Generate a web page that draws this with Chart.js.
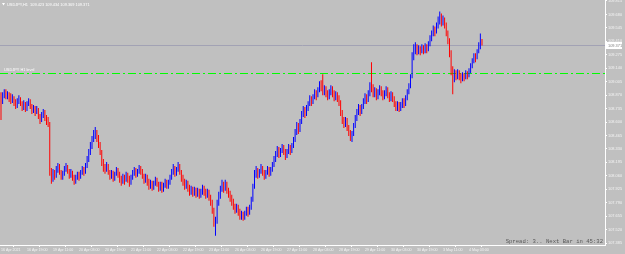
<!DOCTYPE html>
<html><head><meta charset="utf-8">
<script src="https://cdn.jsdelivr.net/npm/chart.js@4/dist/chart.umd.min.js"></script>
<style>html,body{margin:0;padding:0;background:#C0C0C0;overflow:hidden}#wrap{width:625px;height:254px}</style>
</head><body><div id="wrap"><canvas id="c" width="625" height="254"></canvas></div>
<script>
const headerText = 'USDJPY,H1  109.423 109.434 109.369 109.371';
const footerText = 'Spread: 3.. Next Bar in 45:32';
const levelText = 'USDJPY H1 level';
const bidPrice = 109.371;
const levelPrice = 109.092;
const barsPerLabel = 16;
const tickLabels = ['16 Apr 2021','16 Apr 19:00','19 Apr 11:00','20 Apr 03:00','20 Apr 19:00','21 Apr 11:00','22 Apr 03:00','22 Apr 19:00','23 Apr 11:00','26 Apr 03:00','26 Apr 19:00','27 Apr 11:00','28 Apr 03:00','28 Apr 19:00','29 Apr 11:00','30 Apr 03:00','30 Apr 19:00','3 May 11:00','4 May 03:00'];
const priceTicks = [109.815,109.680,109.545,109.410,109.275,109.140,109.005,108.870,108.735,108.600,108.465,108.330,108.195,108.060,107.925,107.790,107.655,107.520,107.385];

const opens = [
108.86,108.80,108.88,108.90,108.85,108.88,108.86,108.82,108.84,108.80,108.77,108.80,108.83,108.79,108.75,108.78,
108.74,108.78,108.81,108.76,108.72,108.74,108.70,108.73,108.66,108.62,108.66,108.70,108.64,108.62,108.58,108.10,
108.03,108.10,108.06,108.12,108.16,108.10,108.05,108.08,108.12,108.15,108.11,108.07,108.10,108.05,108.00,108.04,
108.08,108.05,108.09,108.13,108.10,108.16,108.22,108.30,108.36,108.42,108.46,108.50,108.44,108.38,108.30,108.20,
108.15,108.12,108.16,108.10,108.06,108.09,108.04,108.08,108.12,108.08,108.03,108.00,108.05,108.02,108.07,108.03,
108.00,108.04,108.09,108.12,108.07,108.10,108.14,108.11,108.06,108.02,108.05,108.00,107.96,107.99,107.95,107.98,
108.02,107.98,107.94,107.97,107.93,107.96,108.00,107.96,107.99,108.04,108.10,108.14,108.08,108.12,108.16,108.10,
108.04,108.00,107.96,107.99,107.94,107.90,107.93,107.89,107.92,107.87,107.91,107.86,107.90,107.94,107.90,107.87,
107.90,107.85,107.80,107.72,107.60,107.62,107.78,107.85,107.92,107.97,107.93,107.98,107.92,107.88,107.84,107.80,
107.76,107.72,107.75,107.70,107.66,107.68,107.64,107.68,107.72,107.69,107.74,107.82,107.95,108.08,108.12,108.06,
108.10,108.14,108.10,108.06,108.09,108.13,108.09,108.12,108.17,108.22,108.27,108.32,108.28,108.31,108.35,108.30,
108.26,108.30,108.35,108.31,108.36,108.42,108.50,108.56,108.52,108.60,108.68,108.72,108.68,108.73,108.78,108.84,
108.80,108.85,108.90,108.86,108.92,108.98,108.95,108.90,108.94,108.89,108.86,108.90,108.94,108.89,108.85,108.88,
108.84,108.80,108.70,108.62,108.58,108.62,108.55,108.50,108.45,108.48,108.56,108.64,108.70,108.74,108.70,108.75,
108.80,108.86,108.82,108.88,108.96,108.94,108.88,108.92,108.86,108.90,108.94,108.90,108.86,108.89,108.93,108.88,
108.84,108.88,108.84,108.79,108.75,108.78,108.74,108.77,108.81,108.78,108.84,108.90,108.96,109.05,109.25,109.32,
109.36,109.30,109.34,109.31,109.35,109.32,109.36,109.33,109.38,109.44,109.49,109.53,109.50,109.56,109.62,109.66,
109.60,109.64,109.58,109.50,109.42,109.30,109.12,109.04,109.10,109.06,109.10,109.06,109.04,109.07,109.05,109.09,
109.07,109.11,109.16,109.21,109.26,109.24,109.30,109.36,109.423];
const highs = [
108.90,108.90,108.93,108.93,108.91,108.90,108.89,108.88,108.86,108.83,108.84,108.87,108.85,108.81,108.82,108.80,
108.81,108.84,108.83,108.78,108.77,108.76,108.76,108.74,108.68,108.70,108.73,108.72,108.67,108.65,108.60,108.14,
108.13,108.12,108.16,108.19,108.18,108.12,108.11,108.16,108.19,108.17,108.13,108.13,108.11,108.07,108.07,108.10,
108.10,108.12,108.16,108.15,108.19,108.26,108.33,108.40,108.46,108.52,108.55,108.52,108.47,108.40,108.32,108.23,
108.18,108.20,108.18,108.12,108.12,108.11,108.10,108.15,108.14,108.10,108.06,108.08,108.07,108.10,108.09,108.06,
108.07,108.12,108.15,108.14,108.13,108.17,108.16,108.13,108.08,108.08,108.07,108.03,108.02,108.01,108.01,108.05,
108.04,108.00,108.00,108.00,107.99,108.03,108.02,108.02,108.07,108.13,108.18,108.16,108.15,108.20,108.18,108.12,
108.07,108.03,108.02,108.01,107.97,107.96,107.95,107.95,107.94,107.94,107.93,107.93,107.97,107.96,107.93,107.93,
107.92,107.87,107.82,107.74,107.65,107.82,107.90,107.96,108.02,108.00,108.02,108.00,107.94,107.91,107.87,107.83,
107.78,107.78,107.77,107.73,107.71,107.70,107.71,107.75,107.75,107.77,107.85,107.98,108.12,108.16,108.14,108.13,
108.18,108.16,108.12,108.12,108.16,108.15,108.15,108.20,108.26,108.31,108.36,108.35,108.34,108.38,108.37,108.33,
108.33,108.38,108.37,108.39,108.45,108.53,108.60,108.59,108.63,108.71,108.76,108.75,108.77,108.81,108.87,108.86,
108.88,108.93,108.92,108.95,109.01,109.02,109.08,108.97,108.96,108.92,108.93,108.97,108.96,108.92,108.91,108.90,
108.87,108.82,108.72,108.65,108.65,108.64,108.57,108.52,108.51,108.59,108.67,108.73,108.78,108.77,108.78,108.84,
108.89,108.88,108.92,109.00,109.20,108.98,108.95,108.94,108.93,108.97,108.96,108.92,108.92,108.96,108.95,108.90,
108.91,108.90,108.86,108.81,108.81,108.80,108.80,108.84,108.84,108.87,108.93,108.99,109.08,109.30,109.38,109.40,
109.38,109.37,109.36,109.38,109.37,109.39,109.38,109.41,109.47,109.52,109.57,109.56,109.60,109.66,109.71,109.69,
109.67,109.65,109.60,109.52,109.44,109.32,109.16,109.13,109.12,109.13,109.12,109.09,109.10,109.09,109.12,109.11,
109.14,109.19,109.24,109.29,109.29,109.33,109.40,109.49,109.434];
const lows = [
108.62,108.78,108.84,108.83,108.83,108.80,108.78,108.79,108.76,108.73,108.74,108.78,108.76,108.71,108.72,108.70,
108.71,108.76,108.73,108.68,108.69,108.66,108.68,108.63,108.58,108.60,108.64,108.61,108.57,108.55,108.06,107.98,
108.00,108.02,108.04,108.09,108.07,108.02,108.02,108.06,108.10,108.08,108.03,108.04,108.01,107.97,107.98,108.02,
108.01,108.03,108.07,108.06,108.08,108.14,108.20,108.27,108.33,108.40,108.43,108.40,108.34,108.27,108.16,108.10,
108.08,108.10,108.07,108.02,108.03,108.00,108.01,108.06,108.04,107.99,107.96,107.98,107.97,108.00,107.99,107.95,
107.97,108.02,108.06,108.04,108.05,108.08,108.07,108.03,107.98,107.99,107.96,107.92,107.93,107.91,107.92,107.96,
107.95,107.90,107.91,107.89,107.90,107.94,107.93,107.93,107.97,108.02,108.07,108.05,108.06,108.10,108.07,108.00,
107.96,107.92,107.93,107.90,107.86,107.87,107.85,107.86,107.84,107.85,107.83,107.84,107.87,107.86,107.83,107.84,
107.81,107.76,107.68,107.55,107.46,107.58,107.76,107.83,107.90,107.89,107.91,107.88,107.84,107.80,107.76,107.72,
107.68,107.69,107.66,107.62,107.62,107.61,107.62,107.66,107.65,107.67,107.72,107.80,107.93,108.04,108.03,108.04,
108.08,108.06,108.02,108.03,108.07,108.05,108.06,108.10,108.15,108.20,108.25,108.24,108.25,108.29,108.27,108.22,
108.24,108.28,108.27,108.29,108.34,108.40,108.47,108.48,108.50,108.58,108.65,108.64,108.66,108.71,108.76,108.76,
108.78,108.83,108.82,108.85,108.90,108.91,108.87,108.87,108.85,108.82,108.83,108.87,108.85,108.81,108.82,108.80,
108.76,108.66,108.58,108.54,108.55,108.51,108.46,108.41,108.40,108.46,108.54,108.61,108.67,108.66,108.68,108.73,
108.78,108.78,108.80,108.86,108.90,108.85,108.85,108.82,108.83,108.87,108.86,108.82,108.83,108.86,108.84,108.80,
108.81,108.80,108.75,108.71,108.71,108.70,108.71,108.74,108.74,108.76,108.82,108.88,108.94,109.04,109.22,109.28,
109.27,109.28,109.27,109.29,109.28,109.29,109.29,109.31,109.36,109.41,109.46,109.46,109.49,109.54,109.58,109.56,
109.57,109.54,109.46,109.38,109.25,109.07,108.88,109.00,109.02,109.03,109.02,108.99,109.01,109.01,109.03,109.03,
109.05,109.09,109.14,109.19,109.20,109.23,109.29,109.33,109.369];
const closes = [
108.80,108.88,108.90,108.85,108.88,108.86,108.82,108.84,108.80,108.77,108.80,108.83,108.79,108.75,108.78,108.74,
108.78,108.81,108.76,108.72,108.74,108.70,108.73,108.66,108.62,108.66,108.70,108.64,108.62,108.58,108.10,108.03,
108.10,108.06,108.12,108.16,108.10,108.05,108.08,108.12,108.15,108.11,108.07,108.10,108.05,108.00,108.04,108.08,
108.05,108.09,108.13,108.10,108.16,108.22,108.30,108.36,108.42,108.46,108.50,108.44,108.38,108.30,108.20,108.15,
108.12,108.16,108.10,108.06,108.09,108.04,108.08,108.12,108.08,108.03,108.00,108.05,108.02,108.07,108.03,108.00,
108.04,108.09,108.12,108.07,108.10,108.14,108.11,108.06,108.02,108.05,108.00,107.96,107.99,107.95,107.98,108.02,
107.98,107.94,107.97,107.93,107.96,108.00,107.96,107.99,108.04,108.10,108.14,108.08,108.12,108.16,108.10,108.04,
108.00,107.96,107.99,107.94,107.90,107.93,107.89,107.92,107.87,107.91,107.86,107.90,107.94,107.90,107.87,107.90,
107.85,107.80,107.72,107.60,107.62,107.78,107.85,107.92,107.97,107.93,107.98,107.92,107.88,107.84,107.80,107.76,
107.72,107.75,107.70,107.66,107.68,107.64,107.68,107.72,107.69,107.74,107.82,107.95,108.08,108.12,108.06,108.10,
108.14,108.10,108.06,108.09,108.13,108.09,108.12,108.17,108.22,108.27,108.32,108.28,108.31,108.35,108.30,108.26,
108.30,108.35,108.31,108.36,108.42,108.50,108.56,108.52,108.60,108.68,108.72,108.68,108.73,108.78,108.84,108.80,
108.85,108.90,108.86,108.92,108.98,108.95,108.90,108.94,108.89,108.86,108.90,108.94,108.89,108.85,108.88,108.84,
108.80,108.70,108.62,108.58,108.62,108.55,108.50,108.45,108.48,108.56,108.64,108.70,108.74,108.70,108.75,108.80,
108.86,108.82,108.88,108.96,108.94,108.88,108.92,108.86,108.90,108.94,108.90,108.86,108.89,108.93,108.88,108.84,
108.88,108.84,108.79,108.75,108.78,108.74,108.77,108.81,108.78,108.84,108.90,108.96,109.05,109.25,109.32,109.36,
109.30,109.34,109.31,109.35,109.32,109.36,109.33,109.38,109.44,109.49,109.53,109.50,109.56,109.62,109.66,109.60,
109.64,109.58,109.50,109.42,109.30,109.12,109.04,109.10,109.06,109.10,109.06,109.04,109.07,109.05,109.09,109.07,
109.11,109.16,109.21,109.26,109.24,109.30,109.36,109.42,109.371];

const BULL = '#0000FF', BEAR = '#FF0000';
const barColors = closes.map((c, i) => c >= opens[i] ? BULL : BEAR);
const wickData = closes.map((c, i) => ({x: i, y: [lows[i], highs[i]]}));
const xFont = {family: 'Liberation Sans', size: 3.6};
const yFont = {family: 'Liberation Sans', size: 3.9};

const overlay = {
  id: 'overlay',
  beforeDatasetsDraw(chart) {
    const {ctx, chartArea: a, scales: {y}} = chart;
    ctx.save();
    const yb = Math.round(y.getPixelForValue(bidPrice)) + 0.5;
    ctx.strokeStyle = '#A2A2B4'; ctx.lineWidth = 1;
    ctx.beginPath(); ctx.moveTo(a.left, yb); ctx.lineTo(a.right, yb); ctx.stroke();
    const yl = Math.round(y.getPixelForValue(levelPrice)) + 0.5;
    ctx.strokeStyle = '#00FF00'; ctx.lineWidth = 1; ctx.setLineDash([8, 3, 2, 3]);
    ctx.beginPath(); ctx.moveTo(a.left, yl); ctx.lineTo(a.right, yl); ctx.stroke();
    ctx.restore();
  },
  afterDraw(chart) {
    const {ctx, chartArea: a, scales: {y}} = chart;
    ctx.save();
    ctx.fillStyle = '#FFFFFF';
    ctx.beginPath(); ctx.moveTo(2, 3); ctx.lineTo(5, 3); ctx.lineTo(3.5, 5.5); ctx.closePath(); ctx.fill();
    ctx.font = '3.9px "Liberation Sans"'; ctx.textBaseline = 'middle'; ctx.textAlign = 'left';
    ctx.fillText(headerText, 7, 4.5);
    const yl = y.getPixelForValue(levelPrice);
    ctx.fillText(levelText, 4, yl - 3);
    const yb = Math.round(y.getPixelForValue(bidPrice));
    ctx.fillStyle = '#FFFFFF';
    ctx.fillRect(a.right + 1, yb - 3, 625 - a.right - 4, 7);
    ctx.fillStyle = '#808080';
    ctx.fillText(bidPrice.toFixed(3), a.right + 3, yb + 0.5);
    ctx.fillStyle = '#585858';
    ctx.font = '5.6px "Liberation Mono"';
    ctx.textAlign = 'right';
    ctx.fillText(footerText, a.right - 2, a.bottom - 3);
    ctx.restore();
  }
};

new Chart(document.getElementById('c'), {
  type: 'bar',
  data: {datasets: [
    {data: wickData, backgroundColor: barColors, barThickness: 1, inflateAmount: 0, grouped: false}
  ]},
  options: {
    responsive: false, animation: false, devicePixelRatio: 1,
    layout: {padding: 0},
    plugins: {legend: {display: false}, tooltip: {enabled: false}},
    scales: {
      x: {
        type: 'linear', position: 'bottom', min: -0.615, max: 371.7, offset: false,
        afterBuildTicks: s => { s.ticks = tickLabels.map((t, k) => ({value: k * barsPerLabel})); },
        afterFit: s => { s.height = 9; s.paddingLeft = 0; s.paddingRight = 0; },
        ticks: {callback: v => tickLabels[Math.round(v / barsPerLabel)] || '', autoSkip: false, maxRotation: 0, minRotation: 0,
                align: 'start', padding: 0.5, color: '#F4F4F4', font: xFont},
        grid: {drawOnChartArea: false, drawTicks: true, tickLength: 2, color: '#FFFFFF'},
        border: {color: '#FFFFFF', width: 1}
      },
      y: {
        type: 'linear', position: 'right', min: 107.366, max: 109.825,
        afterBuildTicks: s => { s.ticks = priceTicks.map(v => ({value: v})); },
        afterFit: s => { s.width = 20; s.paddingTop = 0; s.paddingBottom = 0; },
        ticks: {callback: v => v.toFixed(3), padding: 1, color: '#F4F4F4', font: yFont, autoSkip: false},
        grid: {drawOnChartArea: false, drawTicks: true, tickLength: 2, color: '#FFFFFF'},
        border: {color: '#FFFFFF', width: 1}
      }
    }
  },
  plugins: [overlay]
});
</script></body></html>
